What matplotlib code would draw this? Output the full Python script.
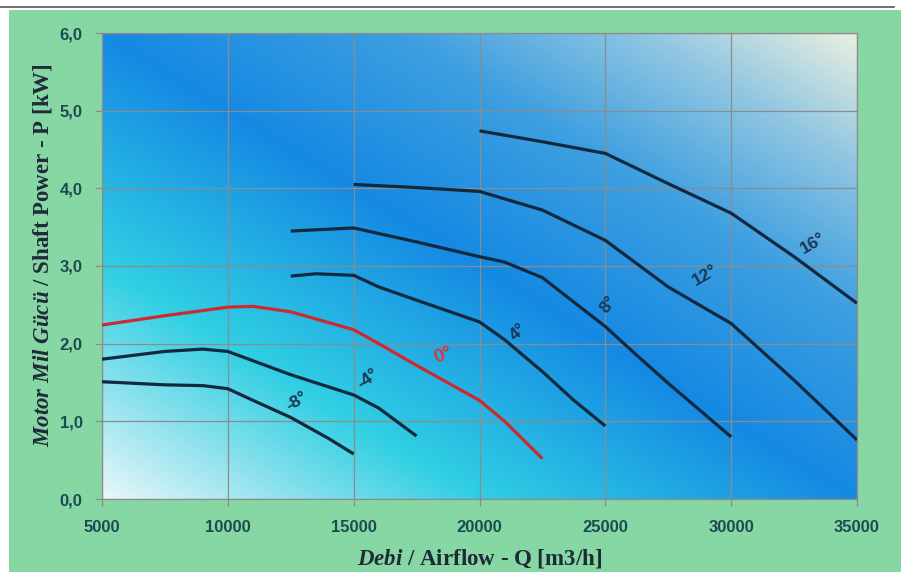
import numpy as np
import matplotlib
matplotlib.use('Agg')
import matplotlib.pyplot as plt
from matplotlib.colors import LinearSegmentedColormap
from matplotlib.patches import Rectangle

plt.rcParams['mathtext.fontset'] = 'custom'
plt.rcParams['mathtext.it'] = 'Liberation Serif:italic:bold'
plt.rcParams['mathtext.rm'] = 'Liberation Serif:bold'

# fan curves: airflow [m3/h] vs shaft power [kW], per blade angle
x_m8 = [5000, 7500, 9000, 10000, 11000, 12500, 14000, 15000]
y_m8 = [1.51, 1.47, 1.46, 1.42, 1.27, 1.05, 0.78, 0.58]
x_m4 = [5000, 7500, 9000, 10000, 12500, 15000, 16000, 17500]
y_m4 = [1.80, 1.90, 1.93, 1.90, 1.60, 1.34, 1.17, 0.81]
x_0 = [5000, 7500, 10000, 11000, 12500, 15000, 16000, 17500, 20000, 21000, 22500]
y_0 = [2.24, 2.36, 2.47, 2.48, 2.41, 2.18, 2.00, 1.72, 1.27, 1.00, 0.52]
x_4 = [12500, 13500, 15000, 16000, 17500, 20000, 21000, 22500, 23750, 25000]
y_4 = [2.87, 2.90, 2.88, 2.73, 2.56, 2.28, 2.05, 1.64, 1.27, 0.94]
x_8 = [12500, 15000, 17500, 20000, 21000, 22500, 25000, 26250, 27500, 30000]
y_8 = [3.45, 3.49, 3.31, 3.12, 3.05, 2.85, 2.22, 1.85, 1.49, 0.80]
x_12 = [15000, 17500, 20000, 22500, 25000, 27500, 30000, 32500, 35000]
y_12 = [4.05, 4.01, 3.96, 3.72, 3.33, 2.73, 2.26, 1.53, 0.76]
x_16 = [20000, 22500, 25000, 27500, 30000, 32500, 35000]
y_16 = [4.74, 4.60, 4.45, 4.06, 3.68, 3.12, 2.52]

curve_names = ['-8°', '-4°', '0°', '4°', '8°', '12°', '16°']
# label anchor (x, y) and rotation for each curve
label_pos = [(12730, 1.25), (15580, 1.54), (18560, 1.85), (21540, 2.15),
             (25115, 2.50), (28960, 2.88), (33260, 3.29)]
label_rot = [30, 35, 22, 40, 50, 30, 30]

xticks = [5000, 10000, 15000, 20000, 25000, 30000, 35000]
yticks = [0, 1, 2, 3, 4, 5, 6]
yticklabels = ['0,0', '1,0', '2,0', '3,0', '4,0', '5,0', '6,0']

fig = plt.figure(figsize=(9.08, 5.72), dpi=100)
fig.patch.set_facecolor('white')
fig.patches.append(Rectangle((9/908, 0), 892/908, 562/572, transform=fig.transFigure,
                             facecolor='#87d7a5', edgecolor='none', zorder=-10))
fig.add_artist(plt.Line2D([0, 0.985], [1-7/572, 1-7/572], transform=fig.transFigure,
                          color='#555555', lw=1.2))

ax = fig.add_axes([102/908, 73/572, 755/908, 466/572])

# diagonal background gradient
stops = [(0.0, '#e8f7f9'), (0.12, '#90e2ee'), (0.25, '#30cfe3'),
         (0.5, '#1589e3'), (0.7, '#3e9fe0'), (0.86, '#90c6e2'), (1.0, '#e9efdf')]
cmap = LinearSegmentedColormap.from_list('bg', stops)
u = np.linspace(0, 1, 400)
v = np.linspace(0, 1, 300)
U, V = np.meshgrid(u, v)
ax.imshow((U + V) / 2, cmap=cmap, extent=[5000, 35000, 0, 6], origin='lower',
          aspect='auto', vmin=0, vmax=1, zorder=0, interpolation='bilinear')

dark = '#10293f'
red = '#cc2a2e'
xs = [x_m8, x_m4, x_0, x_4, x_8, x_12, x_16]
ys = [y_m8, y_m4, y_0, y_4, y_8, y_12, y_16]
for i in range(len(xs)):
  col = red if curve_names[i] == '0°' else dark
  ax.plot(xs[i], ys[i], color=col, lw=2.3, solid_capstyle='butt',
          solid_joinstyle='round', zorder=3)
  tcol = '#d23a3c' if curve_names[i] == '0°' else '#1a3550'
  fs = 14 if curve_names[i] == '0°' else 12.5
  ax.text(label_pos[i][0], label_pos[i][1], curve_names[i], rotation=label_rot[i],
          ha='center', va='center', fontsize=fs, fontweight='bold', color=tcol,
          family='Liberation Sans', zorder=4)

ax.set_xlim(5000, 35000)
ax.set_ylim(0, 6)
ax.set_xticks(xticks)
ax.set_yticks(yticks)
ax.set_yticklabels(yticklabels)
ax.grid(True, color='#8c8c8c', lw=0.9)
ax.set_axisbelow(True)
for s in ax.spines.values():
  s.set_color('#8c8c8c')
  s.set_linewidth(0.9)
ax.tick_params(direction='out', length=5, width=0.9, color='#8c8c8c',
               labelcolor='#1d4a50', labelsize=12)
ax.tick_params(axis='x', pad=10)
ax.tick_params(axis='y', pad=9)
for lab in ax.get_xticklabels() + ax.get_yticklabels():
  lab.set_family('Liberation Sans')
  lab.set_fontweight('bold')

fig.text(480/908, 1-559/572, r'$\mathit{Debi}$ / Airflow - Q [m3/h]', ha='center', va='center',
         fontsize=16.5, family='Liberation Serif', fontweight='bold', color='#1e2a38')
fig.text(43/908, 1-255/572, r'$\mathit{Motor\ Mil\ Gücü}$ / Shaft Power - P [kW]', ha='center',
         va='center', rotation=90, fontsize=16.5, family='Liberation Serif', fontweight='bold',
         color='#1e2a38')

plt.savefig('out.png', dpi=100, facecolor=fig.get_facecolor())
